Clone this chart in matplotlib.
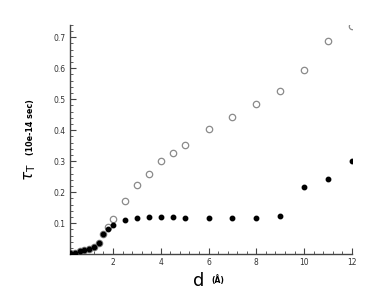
import matplotlib
matplotlib.use("Agg")
import matplotlib.pyplot as plt
from matplotlib.ticker import MultipleLocator

# data
d = [0.2, 0.4, 0.6, 0.8, 1.0, 1.2, 1.4, 1.6, 1.8, 2.0,
     2.5, 3.0, 3.5, 4.0, 4.5, 5.0, 6.0, 7.0, 8.0, 9.0, 10.0, 11.0, 12.0]
tau_open = [0.003, 0.005, 0.009, 0.012, 0.017, 0.024, 0.037, 0.066, 0.088, 0.113,
            0.170, 0.224, 0.257, 0.299, 0.327, 0.352, 0.403, 0.442, 0.484, 0.528,
            0.596, 0.688, 0.738]
tau_filled = [0.003, 0.005, 0.009, 0.012, 0.016, 0.023, 0.036, 0.064, 0.080, 0.093,
              0.111, 0.118, 0.120, 0.120, 0.119, 0.117, 0.116, 0.115, 0.115, 0.122,
              0.218, 0.244, 0.300]
xticks = [2, 4, 6, 8, 10, 12]
yticks = [0.1, 0.2, 0.3, 0.4, 0.5, 0.6, 0.7]

fig = plt.figure(figsize=(3.91, 3.0), dpi=100)
ax = fig.add_axes([0.179, 0.153, 0.721, 0.764])

ax.plot(d, tau_open, linestyle='none', marker='o', markersize=4.6,
        markerfacecolor='white', markeredgecolor='#8a8a8a', markeredgewidth=0.9, zorder=2)
ax.plot(d, tau_filled, linestyle='none', marker='o', markersize=3.2,
        markerfacecolor='black', markeredgecolor='black', zorder=3)

ax.set_xlim(0.2, 12)
ax.set_ylim(0, 0.74)
ax.set_xticks(xticks)
ax.set_yticks(yticks)
ax.set_xticklabels([str(t) for t in xticks])
ax.set_yticklabels([f"{t:.1f}" for t in yticks])
ax.xaxis.set_minor_locator(MultipleLocator(0.4))
ax.yaxis.set_minor_locator(MultipleLocator(0.02))

for s in ['top', 'right']:
    ax.spines[s].set_visible(False)
for s in ['left', 'bottom']:
    ax.spines[s].set_color('#444444')
    ax.spines[s].set_linewidth(1.0)

ax.tick_params(which='major', direction='in', length=4, width=0.8, color='#444444',
               labelsize=5.5, labelcolor='#333333', pad=3)
ax.tick_params(which='minor', direction='in', length=2, width=0.6, color='#444444')

fig.text(0.078, 0.425, r'$\tau_{\mathrm{T}}$', rotation=90, fontsize=11,
         ha='center', va='center')
fig.text(0.078, 0.578, '(10e-14 sec)', rotation=90, fontsize=5.8, fontweight='bold',
         ha='center', va='center')
fig.text(0.509, 0.062, 'd', fontsize=13, ha='center', va='center')
fig.text(0.556, 0.068, '(Å)', fontsize=5.5, ha='center', va='center', fontweight='bold')

fig.savefig("out.png", dpi=100)
